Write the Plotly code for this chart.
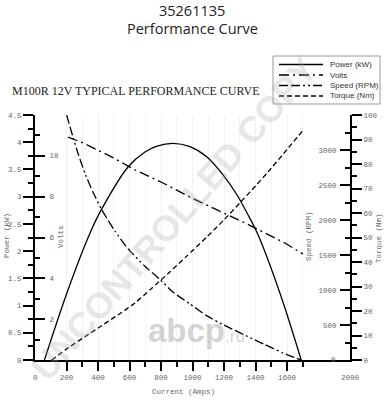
import plotly.graph_objects as go

# ---------------- data ----------------
current_power = [60, 211, 349, 423, 592, 698, 775, 876, 984, 1092, 1194, 1283, 1346, 1416, 1556, 1690]
power_kw = [0, 1.30, 2.33, 2.77, 3.55, 3.82, 3.93, 3.98, 3.92, 3.73, 3.40, 3.03, 2.70, 2.30, 1.22, 0]

current_volts = [210, 305, 489, 635, 813, 984, 1156, 1321, 1587, 1702]
volts = [10.92, 10.63, 9.94, 9.31, 8.67, 7.98, 7.35, 6.76, 5.73, 5.19]

current_speed = [201, 243, 275, 320, 370, 423, 508, 590, 698, 794, 876, 984, 1092, 1194, 1365, 1460, 1575, 1690]
speed_rpm = [3500, 3170, 2940, 2650, 2390, 2150, 1840, 1590, 1340, 1150, 970, 800, 630, 505, 320, 220, 100, 0]

current_torque = [106, 211, 317, 423, 529, 635, 740, 850, 960, 1092, 1200, 1302, 1400, 1500, 1600, 1704]
torque_nm = [0, 5.0, 9.5, 14.0, 18.5, 23.3, 29.2, 35.6, 42.2, 50.3, 57.2, 64.2, 71.0, 78.3, 85.9, 93.9]

x_ticks = [0, 200, 400, 600, 800, 1000, 1200, 1400, 1600, 1800, 2000]
volt_ticks = [2, 4, 6, 8, 10, 12]

series_names = ["Power (kW)", "Volts", "Speed (RPM)", "Torque (Nm)"]
series_dash = ["solid", "10px,4px,2px,4px", "9px,3px,9px,3px,2px,3px,2px,3px", "5px,3px"]

# ---------------- helpers (pixel -> paper) ----------------
L, R, T, B = 35, 35, 115, 40
W, H = 385, 400
PW, PH = W - L - R, H - T - B


def px(x):
    return (x - L) / PW


def py(y):
    return (H - B - y) / PH


TICKFONT = dict(family="Liberation Mono", size=7.5, color="#666")

fig = go.Figure()
fig.add_trace(go.Scatter(x=current_power, y=power_kw, name=series_names[0], mode="lines",
                         line=dict(color="black", width=1.3, dash=series_dash[0], shape="spline", smoothing=1.0),
                         yaxis="y"))
fig.add_trace(go.Scatter(x=current_volts, y=volts, name=series_names[1], mode="lines",
                         line=dict(color="black", width=1.3, dash=series_dash[1], shape="linear"),
                         yaxis="y2"))
fig.add_trace(go.Scatter(x=current_speed, y=speed_rpm, name=series_names[2], mode="lines",
                         line=dict(color="black", width=1.3, dash=series_dash[2], shape="spline", smoothing=0.6),
                         yaxis="y3"))
fig.add_trace(go.Scatter(x=current_torque, y=torque_nm, name=series_names[3], mode="lines",
                         line=dict(color="black", width=1.3, dash=series_dash[3], shape="spline", smoothing=0.6),
                         yaxis="y4"))

common_y = dict(showgrid=False, zeroline=False, showline=True, linecolor="black", linewidth=2,
                tickcolor="black", tickwidth=1.5, tickfont=TICKFONT, automargin=False, fixedrange=True)

fig.update_layout(
    template="none",
    width=W, height=H,
    margin=dict(l=L, r=R, t=T, b=B),
    paper_bgcolor="white", plot_bgcolor="white",
    showlegend=False,
    xaxis=dict(range=[0, 2000], tickvals=x_ticks, ticktext=[str(v) for v in x_ticks],
               ticks="outside", ticklen=9, tickwidth=1.5, tickcolor="black",
               showline=True, linecolor="black", linewidth=2, zeroline=False,
               showgrid=True, gridcolor="#f1f1f1", gridwidth=1,
               minor=dict(dtick=100, ticks="outside", ticklen=5, tickwidth=1.5, tickcolor="black",
                          showgrid=True, gridcolor="#f4f4f4"),
               tickfont=TICKFONT, automargin=False),
    yaxis=dict(range=[0, 4.5], dtick=0.5, side="left", ticks="outside", ticklen=10,
               minor=dict(dtick=0.25, ticks="outside", ticklen=5, tickcolor="black", tickwidth=1.5),
               **common_y),
    yaxis2=dict(range=[0, 12], tickvals=volt_ticks, overlaying="y", side="left", anchor="x",
                ticks="inside", ticklen=10, ticklabelposition="inside", ticklabelstandoff=3,
                minor=dict(dtick=1, ticks="inside", ticklen=5, tickcolor="black", tickwidth=1.5),
                **common_y),
    yaxis3=dict(range=[0, 3500], dtick=500, overlaying="y", side="right", anchor="x",
                ticks="inside", ticklen=10, ticklabelposition="inside", ticklabelstandoff=2,
                minor=dict(dtick=250, ticks="inside", ticklen=5, tickcolor="black", tickwidth=1.5),
                **common_y),
    yaxis4=dict(range=[0, 100], dtick=10, overlaying="y", side="right", anchor="x",
                ticks="outside", ticklen=10,
                minor=dict(dtick=5, ticks="outside", ticklen=5, tickcolor="black", tickwidth=1.5),
                **common_y),
)

ann = []
# titles
TF = dict(family="Open Sans", size=14.5, color="#222")
ann.append(dict(text="35261135", x=px(192), y=py(10.5), font=TF))
ann.append(dict(text="Performance Curve", x=px(192), y=py(28.5), font=TF))
ann.append(dict(text="M100R 12V TYPICAL PERFORMANCE CURVE", x=px(10), y=py(91), xanchor="left",
                font=dict(family="Liberation Serif", size=12, color="#222")))
# axis titles
AXF = dict(family="Liberation Mono", size=7.5, color="#666")
ann.append(dict(text="Power (kW)", x=px(7), y=py(236), textangle=-90, font=AXF))
ann.append(dict(text="Volts", x=px(61), y=py(237), textangle=-90, font=AXF))
ann.append(dict(text="Speed (RPM)", x=px(309), y=py(236), textangle=-90, font=AXF))
ann.append(dict(text="Torque (Nm)", x=px(379), y=py(238), textangle=-90, font=AXF))
ann.append(dict(text="Current (Amps)", x=px(183), y=py(392), font=AXF))

# tick labels that plotly hides next to the inside y labels
for v in (x_ticks[0], x_ticks[-1]):
    ann.append(dict(text=str(v), x=v, xref="x", y=py(378), font=TICKFONT))
ann.append(dict(text="0", x=px(338), xanchor="right", y=0, yref="y3", font=TICKFONT))

# watermark
ann.append(dict(text="<b>UNCONTROLLED COPY</b>", x=px(174), y=py(218), textangle=-49,
                font=dict(family="Liberation Sans", size=36, color="rgba(170,170,170,0.30)")))
ann.append(dict(text="<b>abcp</b><span style='font-size:17px'>.ru</span>", x=px(196), y=py(330),
                font=dict(family="Liberation Sans", size=33, color="rgba(175,175,175,0.55)")))

# legend (manual, compact rows)
legend_rows = [64.5, 75, 85.5, 96]
shapes = [dict(type="rect", xref="paper", yref="paper", x0=px(273), x1=px(380), y0=py(56), y1=py(104),
               line=dict(color="#999", width=1), fillcolor="white", layer="above")]
for name, dash, yy in zip(series_names, series_dash, legend_rows):
    shapes.append(dict(type="line", xref="paper", yref="paper", x0=px(279), x1=px(323), y0=py(yy), y1=py(yy),
                       line=dict(color="black", width=1.3, dash=dash), layer="above"))
    ann.append(dict(text=name, x=px(328), y=py(yy), xanchor="left",
                    font=dict(family="Liberation Sans", size=8, color="#333")))

for a in ann:
    a.setdefault("xref", "paper")
    a.setdefault("yref", "paper")
    a.setdefault("showarrow", False)
    a.setdefault("xanchor", "center")
    a.setdefault("yanchor", "middle")

fig.update_layout(annotations=ann, shapes=shapes)
fig.write_html("out.html")
